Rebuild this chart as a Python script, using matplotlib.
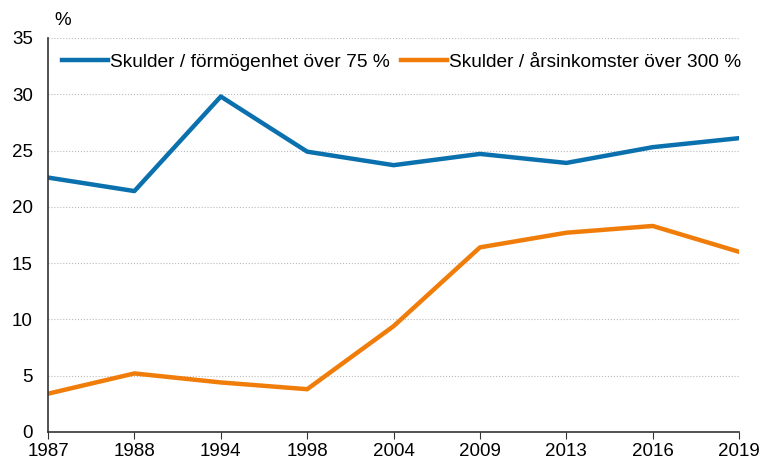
import matplotlib
matplotlib.use("Agg")
from matplotlib import pyplot as plt

years = ["1987", "1988", "1994", "1998", "2004", "2009", "2013", "2016", "2019"]
formogenhet = [22.6, 21.4, 29.8, 24.9, 23.7, 24.7, 23.9, 25.3, 26.1]
arsinkomster = [3.4, 5.2, 4.4, 3.8, 9.4, 16.4, 17.7, 18.3, 16.0]
labels = ["Skulder / förmögenhet över 75 %", "Skulder / årsinkomster över 300 %"]

plt.rcParams["font.family"] = ["Liberation Sans", "DejaVu Sans"]
fs = 13.5

fig = plt.figure(figsize=(7.62, 4.63), dpi=100)
ax = fig.add_axes([0.063, 0.067, 0.907, 0.851])

x = range(len(years))
ax.plot(x, formogenhet, color="#0a70ae", lw=3.2, label=labels[0], solid_joinstyle="round")
ax.plot(x, arsinkomster, color="#f07d0a", lw=3.2, label=labels[1], solid_joinstyle="round")

ax.set_xlim(0, len(years) - 1)
ax.set_ylim(0, 35)
ax.set_xticks(list(x))
ax.set_xticklabels(years)
ax.set_yticks(range(0, 36, 5))
ax.tick_params(axis="y", length=0, labelsize=fs, pad=11)
ax.tick_params(axis="x", length=5, direction="out", labelsize=fs, color="#333333", pad=3)

ax.grid(axis="y", linestyle=":", color="#bbbbbb", lw=0.8)
ax.set_axisbelow(True)
for side in ["top", "right"]:
    ax.spines[side].set_visible(False)
for side in ["left", "bottom"]:
    ax.spines[side].set_color("#333333")
    ax.spines[side].set_linewidth(1.2)

fig.text(0.072, 0.955, "%", fontsize=fs, ha="left", va="center")

# legend sits inside the plot, two columns, no frame
ax.legend(loc="center left", ncol=2, frameon=False, fontsize=13.8,
          bbox_to_anchor=(0.02, 0.939), handlelength=2.4, columnspacing=0.6,
          handletextpad=0.1, borderaxespad=0, borderpad=0)

fig.savefig("out.png", dpi=100)
